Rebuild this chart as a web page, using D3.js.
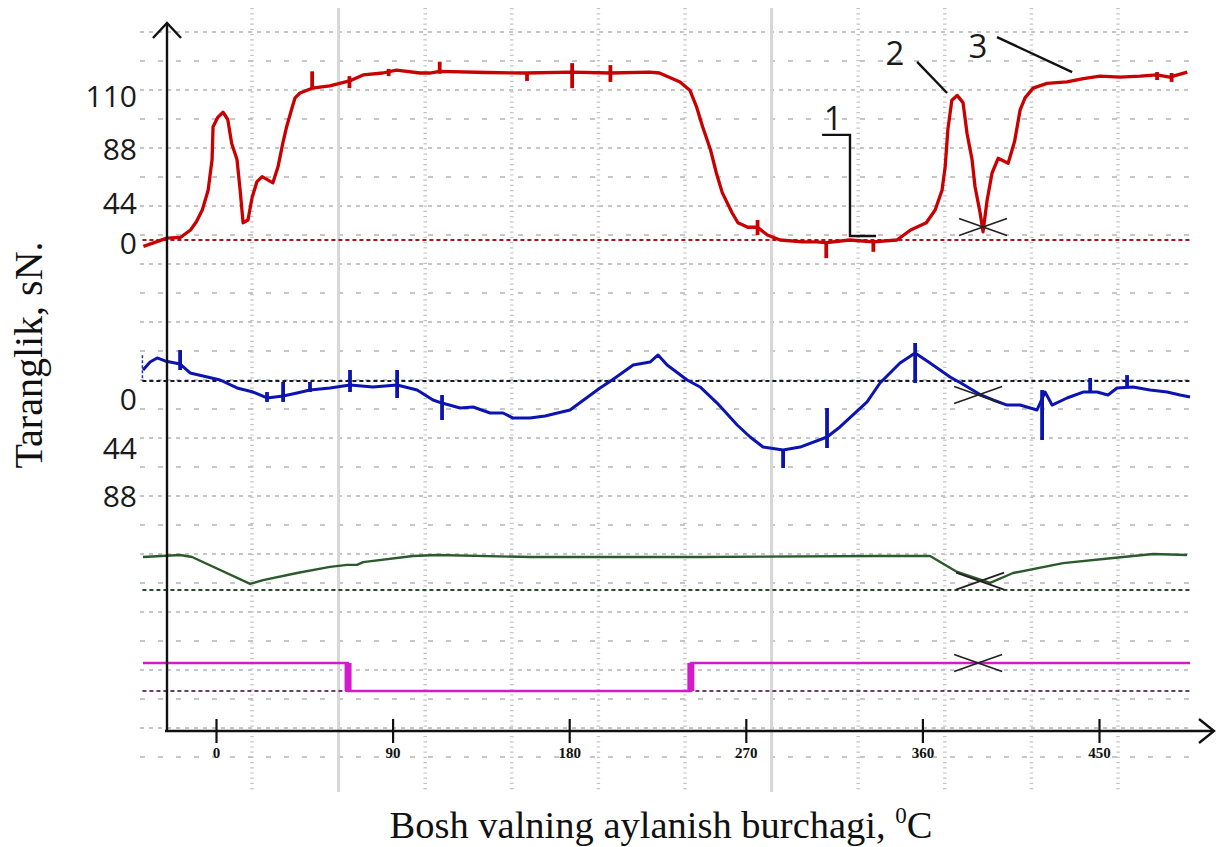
<!DOCTYPE html>
<html>
<head>
<meta charset="utf-8">
<script src="https://cdn.jsdelivr.net/npm/d3@7"></script>
<style>
body { margin: 0; background: #fff; }
svg { display: block; }
</style>
</head>
<body>
<div id="chart"></div>
<script>
////////////////////////////////////////////////////////////////////////////////
// Data: x = crank angle (deg), y = channel units
var xTicks = [0, 90, 180, 270, 360, 450];
var redTicks = [0, 44, 88, 110];
var blueTicks = [0, 44, 88];

// red channel (tension, sN)
var redTrace = [[-37, -7], [-25, 2], [-18, 3], [-13, 11], [-10, 20], [-7, 33], [-4, 52], [-2, 77], [-1.5, 96],
    [1, 100], [3.6, 102], [6, 99], [8, 89], [10.7, 77], [12.3, 52], [13.8, 19], [16.3, 22], [18.4, 46],
    [20.9, 59], [23.5, 63], [29, 58], [31.6, 71], [34, 89], [36, 96], [38.8, 104], [40.3, 108], [42.8, 110],
    [49, 112], [58, 113], [68, 115], [75, 117.5], [85, 118.3], [92, 119.5], [104, 118.3], [109, 118.3],
    [114, 119], [138, 118.5], [158, 118.3], [181, 118.7], [201, 118.3], [221, 118.7], [226, 118.3],
    [236.5, 114.6], [241.6, 111], [245, 104], [248, 96], [252, 85], [255, 66], [258, 50], [263, 30],
    [266, 19], [271, 14], [276, 14], [281, 5.5], [287.5, 0], [299, -2], [306, -2], [311, -3], [323, 0],
    [335, -2], [347, 0], [354, 11], [362, 19], [366.5, 33], [370, 52], [371.6, 71], [373, 95], [375, 107],
    [377.7, 109], [380.7, 106], [382.8, 93], [385.3, 77], [386.8, 55], [389.4, 30], [390.9, 9], [393, 44],
    [395.5, 66], [398.6, 78], [403.7, 74], [407, 90], [409.8, 103], [412.3, 108], [416.4, 112], [423.5, 114],
    [433.7, 114.6], [442, 116], [450.6, 117], [460.7, 116.6], [471, 117], [479.6, 117.5], [486, 116.6],
    [495, 118.7]];
var redSpikes = [[49, 112, 119], [68, 112, 117], [88, 117, 120], [114, 118, 123], [158.5, 115, 118.3],
    [181.5, 112, 122.4], [201, 114.6, 121.6], [276, 5.5, 22], [311, -20, -2], [335, -13, 0],
    [479.6, 115.4, 118.7], [487, 114.6, 118.3]];

// blue channel (values grow downwards)
var blueTrace = [[-37.2, -23.6], [-33.6, -30.8], [-30, -34.5], [-26, -31.8], [-18.3, -29], [-13.2, -20.9],
    [-6.6, -18.1], [2.1, -14.5], [10.7, -7.3], [18.9, -3.6], [26, 1.8], [34.2, 0], [41.3, -2.7],
    [47.9, -5.4], [58.1, -7.3], [68.3, -10], [80, -8.2], [92.3, -10], [102.5, -5.4], [110.6, 3.6],
    [115.2, 6.4], [124.4, 10.9], [131, 10], [139.7, 15.4], [146.3, 15.4], [151.4, 20], [160, 20],
    [167.7, 18.1], [180.4, 12.7], [195.7, -7.3], [201.9, -14.5], [212.6, -28.1], [221.2, -30.8],
    [225.3, -37.2], [229.9, -28.1], [240.1, -14.5], [246.7, -8.2], [255.4, 6.4], [265.6, 26.3],
    [272.2, 37.2], [278.8, 46.3], [289, 49], [297.7, 46.3], [311.4, 37.2], [318, 28.1], [331.8, 5.4],
    [338.4, -11.8], [348.6, -29.9], [356.3, -39], [363.9, -29.9], [374.1, -17.2], [379.6, -11.8],
    [389.8, -0.9], [396, 3.6], [403.2, 8.2], [409.8, 8.2], [418.4, 12.7], [422.5, -3.6], [426.1, 8.2],
    [433.7, 1.8], [441.9, -3.6], [449, -3.6], [454.6, -0.9], [459.2, -7.3], [467.4, -8.2], [476, -5.4],
    [484.7, -3.6], [491.3, -0.9], [496.4, 0.9]];
var blueSpikes = [[-18.3, -41.7, -23.6], [26, -3.6, 5.4], [34.2, -12.7, 5.4], [47.9, -12.7, -3.6],
    [68.3, -23.6, -3.6], [92.3, -23.6, 1.8], [115.2, -0.9, 21.8], [289, 49, 65.3], [311.4, 10.9, 47.2],
    [356.3, -48.1, -11.8], [421, -5.4, 39.9], [445.5, -16.3, -3.6], [464.3, -19, -7.3]];
var blueRefLevel = -13.6;

// green channel (relative units)
var greenTrace = [[-37.2, 9.7], [-18.3, 10.3], [-12.2, 9.7], [17.4, 1.8], [24, 2.9], [41.3, 5], [58.1, 6.8],
    [66.8, 7.4], [71.9, 7.4], [75, 8.2], [100.4, 10], [112.7, 10.3], [160, 9.7], [246.7, 9.7], [338.4, 10],
    [363.9, 10], [377.7, 5.3], [394.5, 2.1], [406.2, 5], [431.7, 7.9], [457.2, 9.4], [477.6, 10.6],
    [494.9, 10.3]];

// magenta channel (on / off)
var magentaTrace = [[-37.2, 10], [67.3, 10], [67.3, 0], [242, 0], [242, 10], [496.4, 10]];
var magentaEdges = [67.3, 242];

var traceRange = [-37.5, 496.5];

// crosses and numbered callouts
var crosses = [["red", 390.9, 14.3], ["blue", 388.4, -0.9], ["green", 389.4, 2.6], ["magenta", 388.4, 10]];
var calloutText = [["1", 314.5, 94.6], ["2", 346, 121.6], ["3", 388.3, 124.5]];
var calloutLines = [
    [[308.9, 92.6], [323.1, 92.6], [323.1, 4.4], [336.4, 4.4]],
    [[357.3, 122.9], [372.6, 110]],
    [[398, 133.2], [436.3, 118.7]]
];

////////////////////////////////////////////////////////////////////////////////
var svgWidth = 1219;
var svgHeight = 847;

var svg = d3.select("#chart").append("svg").attr("width", svgWidth).attr("height", svgHeight);

// Scales
var x = d3.scaleLinear().domain([0, 450]).range([216, 1099]);
var channelY = {
    red: d3.scaleLinear().domain([0, 44, 88, 110]).range([240, 200, 146, 93]),
    blue: d3.scaleLinear().domain([0, 88]).range([396, 493]),
    green: d3.scaleLinear().domain([0, 10]).range([590, 556]),
    magenta: d3.scaleLinear().domain([0, 10]).range([691, 663])
};
var colors = { red: "#c80000", blue: "#0c14b0", green: "#2c5a2c", magenta: "#d21ccc" };

// Oscilloscope grid, in screen divisions
var divX = d3.scaleLinear().domain([0, 12]).range([165.4, 1204.6]);
var divY = d3.scaleLinear().domain([0, 25]).range([32, 757]);

var grid = svg.append("g");
grid.selectAll(".hgrid").data(d3.range(0, 26)).enter().append("line")
    .attr("x1", 140).attr("x2", 1192)
    .attr("y1", d => divY(d)).attr("y2", d => divY(d))
    .attr("stroke", "#b4b4b4").attr("stroke-width", 1.3)
    .attr("stroke-dasharray", d => d % 2 === 0 ? "4,5" : "5,13");
grid.selectAll(".vgrid").data(d3.range(1, 12)).enter().append("line")
    .attr("x1", d => divX(d)).attr("x2", d => divX(d))
    .attr("y1", 8).attr("y2", 792)
    .attr("stroke", d => (d === 2 || d === 7) ? "#d6d6d6" : "#c4c4c4")
    .attr("stroke-width", d => (d === 2 || d === 7) ? 3 : 3.5)
    .attr("stroke-dasharray", d => (d === 2 || d === 7) ? null : "1.2,4");

// Reference lines of each channel
var refs = svg.append("g");
function refLine(ch, level, color) {
    refs.append("line")
        .attr("x1", x(traceRange[0])).attr("x2", x(traceRange[1]))
        .attr("y1", channelY[ch](level)).attr("y2", channelY[ch](level))
        .attr("stroke", color).attr("stroke-width", 1.8).attr("stroke-dasharray", "4,3");
}
refLine("red", 0, "#a01818");
refLine("blue", blueRefLevel, "#151530");
refLine("green", 0, "#2a4a2a");
refLine("magenta", 0, "#6a3a6a");
refs.append("line")
    .attr("x1", x(traceRange[0])).attr("x2", x(traceRange[0]))
    .attr("y1", channelY.blue(-37)).attr("y2", channelY.blue(blueRefLevel))
    .attr("stroke", "#2030c0").attr("stroke-width", 1.5).attr("stroke-dasharray", "3,2");

// Traces
var traces = svg.append("g");
function drawTrace(ch, data, width) {
    var line = d3.line().x(d => x(d[0])).y(d => channelY[ch](d[1]));
    traces.append("path").datum(data)
        .attr("d", line)
        .attr("fill", "none")
        .attr("stroke", colors[ch])
        .attr("stroke-width", width)
        .attr("stroke-linejoin", "round");
}
function drawSpikes(ch, data) {
    traces.selectAll(".spike-" + ch).data(data).enter().append("line")
        .attr("x1", d => x(d[0])).attr("x2", d => x(d[0]))
        .attr("y1", d => channelY[ch](d[1])).attr("y2", d => channelY[ch](d[2]))
        .attr("stroke", colors[ch]).attr("stroke-width", 3.8);
}
drawTrace("green", greenTrace, 2.4);
drawTrace("magenta", magentaTrace, 2.4);
traces.selectAll(".medge").data(magentaEdges).enter().append("line")
    .attr("x1", d => x(d)).attr("x2", d => x(d))
    .attr("y1", channelY.magenta(0)).attr("y2", channelY.magenta(10))
    .attr("stroke", colors.magenta).attr("stroke-width", 7);
drawTrace("blue", blueTrace, 3);
drawSpikes("blue", blueSpikes);
drawTrace("red", redTrace, 3.3);
drawSpikes("red", redSpikes);

// Crosses
var marks = svg.append("g").attr("stroke", "#222").attr("stroke-width", 1.8);
crosses.forEach(function (c) {
    var cx = x(c[1]), cy = channelY[c[0]](c[2]);
    marks.append("line").attr("x1", cx - 24).attr("y1", cy - 8.5).attr("x2", cx + 24).attr("y2", cy + 8.5);
    marks.append("line").attr("x1", cx - 24).attr("y1", cy + 8.5).attr("x2", cx + 24).attr("y2", cy - 8.5);
});

// Callouts on the red channel
var callouts = svg.append("g");
calloutLines.forEach(function (pts) {
    callouts.append("path")
        .attr("d", d3.line().x(d => x(d[0])).y(d => channelY.red(d[1]))(pts))
        .attr("fill", "none").attr("stroke", "#111").attr("stroke-width", 2.4);
});
callouts.selectAll("text").data(calloutText).enter().append("text")
    .attr("x", d => x(d[1])).attr("y", d => channelY.red(d[2]))
    .attr("text-anchor", "middle")
    .style("font-family", "'Open Sans', sans-serif").style("font-size", "33px").style("fill", "#1a1a1a")
    .text(d => d[0]);

////////////////////////////////////////////////////////////////////////////////
// Axes
var axisY = 731, axisX = 167;

var xAxisCall = d3.axisBottom(x).tickValues(xTicks).tickSize(12).tickFormat(d3.format("d"));
var xAxis = svg.append("g").attr("transform", "translate(0," + axisY + ")").call(xAxisCall);
xAxis.select(".domain").remove();
xAxis.selectAll(".tick line").attr("y1", -12).attr("y2", 12).attr("stroke", "#111").attr("stroke-width", 2.2);
xAxis.selectAll(".tick text").attr("y", 16)
    .style("font-family", "'Liberation Serif', serif").style("font-weight", "bold")
    .style("font-size", "15px").style("fill", "#111");

var axes = svg.append("g").attr("stroke", "#111").attr("stroke-width", 2.4).attr("fill", "none");
axes.append("line").attr("x1", axisX).attr("y1", 23).attr("x2", axisX).attr("y2", axisY);
axes.append("line").attr("x1", axisX - 2).attr("y1", axisY).attr("x2", 1214).attr("y2", axisY);
axes.append("path").attr("d", "M" + (axisX - 14) + ",38L" + axisX + ",23L" + (axisX + 14) + ",38");
axes.append("path").attr("d", "M1199," + (axisY - 12) + "L1214," + axisY + "L1199," + (axisY + 12));

// Channel tick labels
function channelAxis(ch, ticks) {
    var g = svg.append("g").attr("transform", "translate(137,4)")
        .call(d3.axisLeft(channelY[ch]).tickValues(ticks).tickSize(0).tickPadding(0));
    g.select(".domain").remove();
    g.selectAll("text")
        .style("font-family", "'Open Sans', sans-serif").style("font-size", "30px").style("fill", "#1a1a1a");
}
channelAxis("red", redTicks);
channelAxis("blue", blueTicks);

// Titles
svg.append("text")
    .attr("transform", "translate(42,355) rotate(-90)")
    .attr("text-anchor", "middle")
    .style("font-family", "'Liberation Serif', serif").style("font-size", "40px").style("fill", "#111")
    .text("Taranglik, sN.");

var xTitle = svg.append("text")
    .attr("x", 661).attr("y", 838)
    .attr("text-anchor", "middle")
    .style("font-family", "'Liberation Serif', serif").style("font-size", "38.5px").style("fill", "#111");
xTitle.append("tspan").text("Bosh valning aylanish burchagi, ");
xTitle.append("tspan").attr("dy", -15).style("font-size", "23px").text("0");
xTitle.append("tspan").attr("dy", 15).text("C");
</script>
</body>
</html>
